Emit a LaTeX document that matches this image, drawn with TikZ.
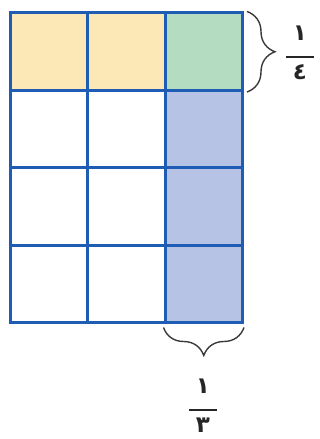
\documentclass[tikz,border=0pt]{standalone}
\usepackage{fontspec}
\newfontfamily\arabicfont[Script=Arabic]{DejaVu Sans}
\usetikzlibrary{decorations.pathreplacing}

\definecolor{gridblue}{HTML}{1E5DB3}
\definecolor{partyellow}{HTML}{FCE8B6}
\definecolor{partgreen}{HTML}{B4DCC0}
\definecolor{partblue}{HTML}{B6C3E5}
\definecolor{bracegray}{HTML}{3A3A3A}

% stacked fraction with Arabic-Indic digits
\newcommand{\arfrac}[2]{#1\\[-9pt]\rule{28pt}{2pt}\\[-4pt]#2}

\begin{document}
\begin{tikzpicture}[
    x=1pt,y=1pt,
    cell/.style={draw=gridblue, line width=3pt, minimum size=77.5pt, inner sep=0pt},
    brace/.style={decorate, decoration={brace, amplitude=28pt, raise=3pt}, draw=bracegray, line width=1.4pt},
    fraction/.style={align=center, inner sep=0pt, font=\arabicfont\bfseries\fontsize{23}{26}\selectfont, text=black!85}
]
\useasboundingbox (0,0) rectangle (320,439);

% grid of 3 x 4 cells
\foreach \col in {1,2,3}{
  \foreach \row in {1,2,3,4}{
    \node[cell] (c-\col-\row) at ({10+77.5*(\col-0.5)},{426-77.5*(\row-0.5)}) {};
  }
}

% shaded cells
\node[cell, fill=partyellow] (c-1-1) at (c-1-1) {};
\node[cell, fill=partyellow] (c-2-1) at (c-2-1) {};
\node[cell, fill=partgreen] (c-3-1) at (c-3-1) {};
\node[cell, fill=partblue] (c-3-2) at (c-3-2) {};
\node[cell, fill=partblue] (c-3-3) at (c-3-3) {};
\node[cell, fill=partblue] (c-3-4) at (c-3-4) {};

% braces and fractions
\draw[brace] (c-3-1.north east) -- (c-3-1.south east);
\draw[brace] (c-3-4.south east) -- (c-3-4.south west);
\node[fraction] (quarter) at (300,386) {\arfrac{١}{٤}};
\node[fraction] (third) at (203,33) {\arfrac{١}{٣}};
\end{tikzpicture}
\end{document}
